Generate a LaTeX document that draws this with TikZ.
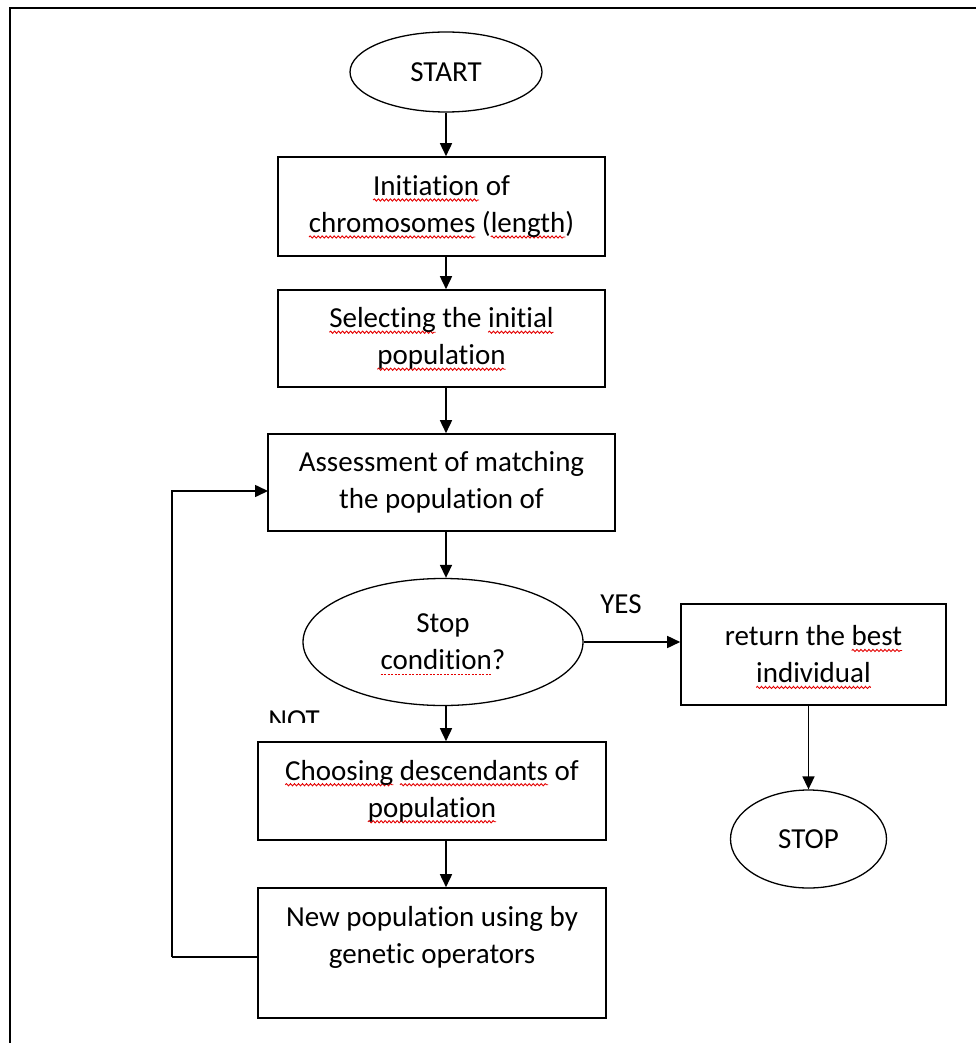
\documentclass[tikz,border=0pt]{standalone}
\usepackage{fontspec}
\setmainfont{Carlito}[Ligatures=NoCommon]
\usetikzlibrary{shapes.geometric,arrows.meta,decorations.pathmorphing}

% red wavy / dotted underline for flagged words
\newsavebox\spellbox
\newlength\spellwd
\newcommand\spell[1]{\sbox\spellbox{#1}\setlength\spellwd{\wd\spellbox}%
  \leavevmode\tikz[overlay]{\draw[red!90!black, line width=0.9pt, decorate,
    decoration={snake, amplitude=1.1pt, segment length=4pt}]
    (0pt,-4.5pt) -- (\spellwd,-4.5pt);}\usebox\spellbox}
\newcommand\spelldot[1]{\sbox\spellbox{#1}\setlength\spellwd{\wd\spellbox}%
  \leavevmode\tikz[overlay]{\draw[red!90!black, line width=1pt, dash pattern=on 2pt off 1.5pt]
    (0pt,-4.5pt) -- (\spellwd,-4.5pt);}\usebox\spellbox}

\tikzset{
  every node/.style={font=\fontsize{29}{37}\selectfont, text=black},
  procbox/.style={draw=black, line width=1.6pt, rectangle, align=center, inner sep=0pt, fill=white},
  oval/.style={draw=black, line width=1.3pt, ellipse, align=center, inner sep=0pt, fill=white},
  flow/.style={line width=1.6pt, -{Triangle[length=13pt,width=12pt]}},
  link/.style={line width=1.6pt},
  frame/.style={line width=2.8pt, black}
}

\begin{document}
\begin{tikzpicture}[x=1pt, y=-1pt]
\useasboundingbox (0,0) rectangle (976,1043);

% outer frame (open to the right and bottom)
\draw[frame] (10,1050) -- (10,8) -- (990,8);

% main column
\node[oval, minimum width=192pt, minimum height=80pt] (start) at (446,72) {START};
\node[procbox, minimum width=327pt, minimum height=99pt] (init) at (441.5,206.5)
  {\spell{Initiation} of\\ \spell{chromosomes} (\spell{length})};
\node[procbox, minimum width=327pt, minimum height=97pt] (select) at (441.5,338.5)
  {\spell{Selecting} the \spell{initial}\\ \spell{population}};
\node[procbox, minimum width=347pt, minimum height=97pt] (assess) at (441.5,482.5)
  {Assessment of matching\\ the population of};
\node[oval, minimum width=280pt, minimum height=127pt] (cond) at (443,642)
  {Stop\\ \spelldot{condition}?};
\node[procbox, minimum width=348pt, minimum height=98pt] (choose) at (432,791)
  {\spell{Choosing} \spell{descendants} of\\ \spell{population}};
\node[procbox, minimum width=348pt, minimum height=130pt] (newpop) at (432,953)
  {New population using by\\ genetic operators\\ \mbox{}};

% right branch
\node[procbox, minimum width=265pt, minimum height=101pt] (ret) at (813.5,654.5)
  {return the \spell{best}\\ \spell{individual}};
\node[oval, minimum width=156pt, minimum height=98pt] (stop) at (808.5,839) {STOP};

% branch labels
\node (yes) at (621,604) {YES};
\begin{scope}
  \clip (250,700) rectangle (345,722);
  \node (no) at (294,720) {NOT};
\end{scope}

% connectors
\draw[flow] (start.south) -- (start.south |- init.north);
\draw[flow] (init.south -| start) -- (select.north -| start);
\draw[flow] (select.south -| start) -- (assess.north -| start);
\draw[flow] (assess.south -| start) -- (start |- cond.north);
\draw[flow] (start |- cond.south) -- (choose.north -| start);
\draw[flow] (choose.south -| start) -- (newpop.north -| start);
\draw[flow] (cond.east) -- (ret.west |- cond.east);
\draw[flow] (ret.south -| stop) -- (stop.north);

% feedback loop back to the assessment step
\coordinate (loopcorner) at (172,957);
\coordinate (loopin) at (268,491);
\draw[link] (newpop.west |- loopcorner) -- (loopcorner);
\draw[flow] (loopcorner) |- (loopin);
\end{tikzpicture}
\end{document}
